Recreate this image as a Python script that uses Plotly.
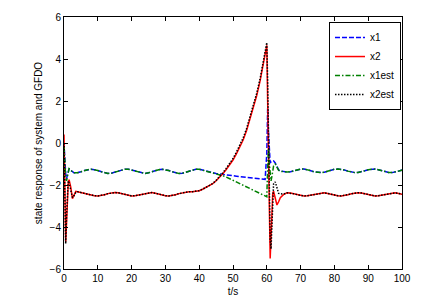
import plotly.graph_objects as go

# time samples (s)
t = [0, 0.25, 0.5, 0.75, 1.0, 1.25, 1.5, 2.0, 2.5, 3.0, 3.5,
     4, 5, 6, 7, 8, 9, 10, 11, 12, 13, 14, 15, 16, 17, 18, 19,
     20, 21, 22, 23, 24, 25, 26, 27, 28, 29, 30, 31, 32, 33, 34, 35, 36, 37, 38, 39,
     40, 41, 42, 43, 44, 45, 46, 47, 48, 49, 50, 51, 52, 53, 54, 55, 56, 57, 58, 59,
     59.5, 60, 60.25, 60.5, 60.75, 61, 61.25, 61.5, 61.75, 62, 62.5, 63, 63.5, 64,
     65, 66, 67, 68, 69, 70, 71, 72, 73, 74, 75, 76, 77, 78, 79, 80,
     81, 82, 83, 84, 85, 86, 87, 88, 89, 90, 91, 92, 93, 94, 95, 96, 97, 98, 99, 100]

x1 = [0.0, -0.9, -1.5, -1.7, -1.55, -1.3, -1.22, -1.3, -1.38, -1.42, -1.43,
      -1.42, -1.37, -1.31, -1.27, -1.25, -1.27, -1.31, -1.37, -1.42, -1.45, -1.44, -1.40, -1.34, -1.29, -1.25, -1.25,
      -1.29, -1.34, -1.40, -1.44, -1.45, -1.42, -1.37, -1.31, -1.27, -1.25, -1.27, -1.31, -1.37, -1.42, -1.45, -1.44, -1.40, -1.34, -1.29, -1.25,
      -1.25, -1.29, -1.34, -1.40, -1.42, -1.45, -1.47, -1.50, -1.52, -1.54, -1.56, -1.58, -1.60, -1.62, -1.63, -1.65, -1.67, -1.69, -1.71, -1.72,
      -1.73, -0.5, 1.65, 0.5, -0.6, -0.95, -0.9, -0.88, -0.86, -0.85, -0.95, -1.13, -1.28, -1.33,
      -1.37, -1.38, -1.37, -1.32, -1.27, -1.24, -1.24, -1.27, -1.32, -1.37, -1.40, -1.41, -1.39, -1.34, -1.29, -1.25,
      -1.24, -1.25, -1.29, -1.34, -1.39, -1.41, -1.40, -1.37, -1.32, -1.27, -1.24, -1.24, -1.27, -1.32, -1.37, -1.40, -1.41, -1.39, -1.34, -1.29]

x2 = [0.4, -2.5, -4.7, -3.8, -2.6, -1.9, -1.75, -2.1, -2.65, -2.5, -2.3,
      -2.32, -2.36, -2.39, -2.43, -2.48, -2.51, -2.52, -2.50, -2.46, -2.41, -2.37, -2.36, -2.37, -2.41, -2.46, -2.50,
      -2.52, -2.51, -2.48, -2.43, -2.39, -2.36, -2.36, -2.39, -2.43, -2.48, -2.51, -2.52, -2.50, -2.46, -2.41, -2.37, -2.33, -2.32, -2.32, -2.31,
      -2.27, -2.20, -2.12, -2.03, -1.94, -1.80, -1.64, -1.46, -1.26, -1.04, -0.81, -0.52, -0.20, 0.14, 0.58, 1.10, 1.65, 2.25, 2.95, 3.80,
      4.25, 4.65, 2.0, -1.5, -4.5, -5.5, -4.5, -3.2, -2.4, -2.3, -2.6, -2.95, -2.8, -2.6,
      -2.45, -2.37, -2.38, -2.42, -2.46, -2.50, -2.52, -2.51, -2.48, -2.44, -2.40, -2.37, -2.37, -2.40, -2.44, -2.48,
      -2.51, -2.52, -2.50, -2.46, -2.42, -2.38, -2.37, -2.38, -2.42, -2.46, -2.50, -2.52, -2.51, -2.48, -2.44, -2.40, -2.37, -2.37, -2.40, -2.44]

x1est = [-0.2, -1.0, -1.6, -1.8, -1.6, -1.35, -1.22, -1.28, -1.38, -1.42, -1.43,
         -1.42, -1.37, -1.31, -1.27, -1.25, -1.27, -1.31, -1.37, -1.42, -1.45, -1.44, -1.40, -1.34, -1.29, -1.25, -1.25,
         -1.29, -1.34, -1.40, -1.44, -1.45, -1.42, -1.37, -1.31, -1.27, -1.25, -1.27, -1.31, -1.37, -1.42, -1.45, -1.44, -1.40, -1.34, -1.29, -1.25,
         -1.25, -1.29, -1.34, -1.40, -1.43, -1.46, -1.50, -1.56, -1.62, -1.70, -1.77, -1.85, -1.92, -2.00, -2.08, -2.16, -2.24, -2.32, -2.40, -2.48,
         -2.53, -2.56, -1.2, -0.25, -1.0, -1.7, -1.8, -1.6, -1.3, -1.1, -1.0, -1.15, -1.3, -1.35,
         -1.38, -1.38, -1.37, -1.32, -1.27, -1.24, -1.24, -1.27, -1.32, -1.37, -1.40, -1.41, -1.39, -1.34, -1.29, -1.25,
         -1.24, -1.25, -1.29, -1.34, -1.39, -1.41, -1.40, -1.37, -1.32, -1.27, -1.24, -1.24, -1.27, -1.32, -1.37, -1.40, -1.41, -1.39, -1.34, -1.29]

x2est = [0.0, -3.0, -4.8, -3.5, -2.0, -1.8, -1.9, -2.3, -2.6, -2.5, -2.35,
         -2.32, -2.36, -2.39, -2.43, -2.48, -2.51, -2.52, -2.50, -2.46, -2.41, -2.37, -2.36, -2.37, -2.41, -2.46, -2.50,
         -2.52, -2.51, -2.48, -2.43, -2.39, -2.36, -2.36, -2.39, -2.43, -2.48, -2.51, -2.52, -2.50, -2.46, -2.41, -2.37, -2.33, -2.32, -2.32, -2.31,
         -2.27, -2.20, -2.12, -2.03, -1.93, -1.78, -1.61, -1.42, -1.21, -0.98, -0.74, -0.44, -0.11, 0.24, 0.68, 1.20, 1.75, 2.36, 3.05, 3.88,
         4.35, 4.78, 3.0, 0.0, -3.0, -4.6, -5.05, -3.8, -2.5, -1.95, -1.85, -2.2, -2.4, -2.42,
         -2.43, -2.37, -2.38, -2.42, -2.46, -2.50, -2.52, -2.51, -2.48, -2.44, -2.40, -2.37, -2.37, -2.40, -2.44, -2.48,
         -2.51, -2.52, -2.50, -2.46, -2.42, -2.38, -2.37, -2.38, -2.42, -2.46, -2.50, -2.52, -2.51, -2.48, -2.44, -2.40, -2.37, -2.37, -2.40, -2.44]

x_ticks = [0, 10, 20, 30, 40, 50, 60, 70, 80, 90, 100]
y_ticks = [-6, -4, -2, 0, 2, 4, 6]

FONT = "Liberation Sans, Arial"

fig = go.Figure()
fig.add_trace(go.Scatter(x=t, y=x1, name="x1", mode="lines",
                         line=dict(color="#0000ff", width=1.5, dash="5px,2px")))
fig.add_trace(go.Scatter(x=t, y=x2, name="x2", mode="lines",
                         line=dict(color="#ff0000", width=1.5)))
fig.add_trace(go.Scatter(x=t, y=x1est, name="x1est", mode="lines",
                         line=dict(color="#008000", width=1.5, dash="5px,2px,1.5px,2px")))
fig.add_trace(go.Scatter(x=t, y=x2est, name="x2est", mode="lines",
                         line=dict(color="#000000", width=1.5, dash="1.5px,1.5px")))

axis_common = dict(showline=True, linecolor="black", linewidth=1, mirror="ticks",
                   ticks="inside", ticklen=4, tickcolor="black", showgrid=False,
                   zeroline=False, automargin=False,
                   tickfont=dict(family=FONT, size=10, color="black"))

fig.update_xaxes(range=[0, 100], tickvals=x_ticks,
                 title=dict(text="t/s", font=dict(family=FONT, size=10, color="black"), standoff=4),
                 **axis_common)
fig.update_yaxes(range=[-6, 6], tickvals=y_ticks,
                 title=dict(text="state response of system and GFDO",
                            font=dict(family=FONT, size=10, color="black"), standoff=5),
                 **axis_common)

# the page body adds an 8px margin, so the figure is sized to fit inside it
fig.update_layout(
    width=432, height=299,
    margin=dict(l=56, r=38, t=9, b=38),
    paper_bgcolor="white", plot_bgcolor="white",
    font=dict(family=FONT, size=10, color="black"),
    legend=dict(x=0.997, y=0.98, xanchor="right", yanchor="top",
                bordercolor="black", borderwidth=1, bgcolor="white",
                font=dict(size=10), tracegroupgap=0),
)

fig.write_html("out.html")
